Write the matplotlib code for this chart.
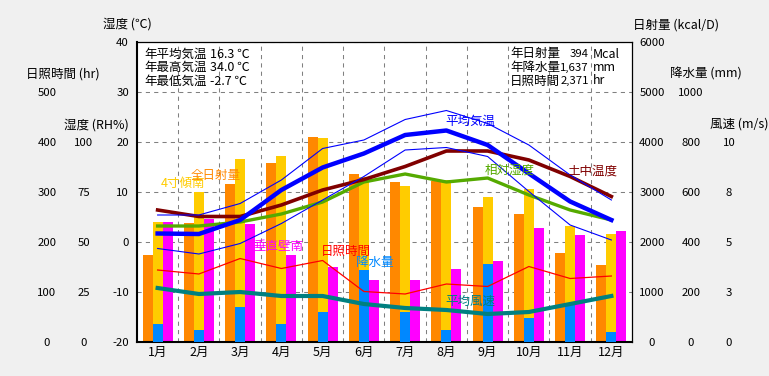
import matplotlib
matplotlib.use('Agg')
import matplotlib.pyplot as plt
import numpy as np

plt.rcParams['font.family'] = ['Noto Sans CJK JP', 'DejaVu Sans']

months = ['1月', '2月', '3月', '4月', '5月', '6月', '7月', '8月', '9月', '10月', '11月', '12月']
solar_total = [1746, 2380, 3160, 3580, 4100, 3360, 3200, 3220, 2700, 2560, 1780, 1540]   # 全日射量
solar_tilt = [2400, 3000, 3660, 3720, 4080, 3300, 3120, 3240, 2900, 3060, 2320, 2160]    # 4寸傾南
solar_wall = [2400, 2467, 2360, 1747, 1500, 1240, 1240, 1460, 1620, 2280, 2140, 2220]    # 垂直壁南
precip = [72, 48, 140, 72, 120, 288, 120, 48, 312, 96, 152, 40]                          # 降水量
temp_mean = [1.7, 1.6, 4.4, 10.4, 14.9, 17.7, 21.4, 22.3, 19.4, 13.7, 8.1, 4.4]
temp_max = [5.4, 5.4, 7.7, 12.4, 18.7, 20.4, 24.5, 26.3, 23.7, 19.4, 13.4, 8.4]
temp_min = [-1.3, -2.4, -0.3, 3.7, 8.4, 13.1, 18.4, 18.9, 17.1, 10.1, 3.4, 0.4]
soil_temp = [6.4, 5.1, 5.1, 7.4, 10.4, 12.5, 15.1, 18.2, 18.2, 16.4, 13.1, 9.1]
humidity = [58, 58, 60, 64, 70, 80, 84, 80, 82, 73.5, 66, 61]
sunshine = [144, 136, 167, 147, 163, 101, 96, 116, 111, 151, 127, 132]
wind = [2.7, 2.4, 2.5, 2.3, 2.3, 1.9, 1.7, 1.6, 1.4, 1.5, 1.9, 2.3]

temp_ticks = [-20, -10, 0, 10, 20, 30, 40]
sun_ticks = [0, 100, 200, 300, 400, 500]
rh_ticks = [0, 25, 50, 75, 100]
solar_ticks = [0, 1000, 2000, 3000, 4000, 5000, 6000]
precip_ticks = [0, 200, 400, 600, 800, 1000]
wind_ticks = [0, 2.5, 5, 7.5, 10]
wind_labels = ['0', '3', '5', '8', '10']

W, H = 769, 376
DPI = 100
fig = plt.figure(figsize=(W / DPI, H / DPI), dpi=DPI, facecolor='#F0F0F0')

def px(x, y):
    return x / W, 1 - y / H

def ppt(p):
    return p * 72 / DPI

L, R, T, B = 137, 632, 42, 342
pos = [L / W, 1 - B / H, (R - L) / W, (B - T) / H]
FS = 9
NFS = 8.2
x = np.arange(12)
bw = 0.242

# --- solar bars (base axes) ---
ax_s = fig.add_axes(pos)
ax_s.set_facecolor('white')
ax_s.bar(x - bw, solar_total, width=bw, color='#FF8800', zorder=2)
ax_s.bar(x, solar_tilt, width=bw, color='#FFCC00', zorder=2)
ax_s.bar(x + bw, solar_wall, width=bw, color='#FF00FF', zorder=2)
ax_s.set_xlim(-0.5, 11.5)
ax_s.set_ylim(0, 6000)
ax_s.set_xticks(x)
ax_s.set_xticklabels(months, fontsize=FS)
ax_s.set_xticks(np.arange(0.5, 11.5, 1), minor=True)
ax_s.tick_params(axis='x', which='both', length=0, pad=ppt(4))
ax_s.grid(True, axis='x', which='minor', color='#808080', lw=0.75, linestyle=(0, (4, 4)), zorder=1)
ax_s.grid(True, axis='y', which='major', color='#808080', lw=0.75, linestyle=(0, (4, 4)), zorder=1)
ax_s.set_axisbelow(True)
for side in ['left', 'bottom']:
    ax_s.spines[side].set_linewidth(1.5)
for side in ['top', 'right']:
    ax_s.spines[side].set_linewidth(0.9)

def twin(ylim, ticks, labels, side, pad, ha):
    a = ax_s.twinx()
    a.set_ylim(*ylim)
    for sp in a.spines.values():
        sp.set_visible(False)
    if side == 'left':
        a.yaxis.tick_left()
    else:
        a.yaxis.tick_right()
    a.set_yticks(ticks)
    a.set_yticklabels(labels, fontsize=NFS)
    a.tick_params(axis='y', length=0, pad=ppt(pad))
    for lb in a.get_yticklabels():
        lb.set_ha(ha)
    a.set_xlim(-0.5, 11.5)
    return a

ax_p = twin((0, 1200), precip_ticks, [str(v) for v in precip_ticks], 'right', 59, 'center')
ax_p.bar(x, precip, width=bw, color='#0088FF')

ax_h = twin((0, 600), sun_ticks, [str(v) for v in sun_ticks], 'left', 90, 'center')
ax_h.plot(x, sunshine, color='#FF0000', lw=0.9)

ax_rh = twin((0, 150), rh_ticks, [str(v) for v in rh_ticks], 'left', 53, 'center')
ax_rh.plot(x, humidity, color='#55AA00', lw=2.4)

ax_w = twin((0, 15), wind_ticks, wind_labels, 'right', 97, 'center')
ax_w.plot(x, wind, color='#008080', lw=3)

ax_t = twin((-20, 40), temp_ticks, [str(v) for v in temp_ticks], 'left', 8, 'right')
ax_t.plot(x, soil_temp, color='#800000', lw=2.6)
ax_t.plot(x, temp_max, color='#0000FF', lw=0.8)
ax_t.plot(x, temp_min, color='#0000FF', lw=0.8)
ax_t.plot(x, temp_mean, color='#0000FF', lw=3.2)

# solar tick labels on the right (after twinx, which resets the base axis to left)
ax_s.yaxis.tick_right()
ax_s.set_yticks(solar_ticks)
ax_s.set_yticklabels([str(v) for v in solar_ticks], fontsize=NFS)
ax_s.tick_params(axis='y', length=0, pad=ppt(20))
for lb in ax_s.get_yticklabels():
    lb.set_ha('center')

# axis titles
def ftext(xp, yp, s, ha='center', color='black', size=FS):
    fx, fy = px(xp, yp)
    fig.text(fx, fy, s, ha=ha, va='center', color=color, fontsize=size)

ftext(127, 24, '湿度 (℃)')
ftext(63, 74, '日照時間 (hr)')
ftext(96, 125, '湿度 (RH%)')
ftext(676, 25, '日射量 (kcal/D)')
ftext(706, 74, '降水量 (mm)')
ftext(739, 124, '風速 (m/s)')

# info texts
for i, (lab, val) in enumerate([('年平均気温', '16.3 ℃'), ('年最高気温', '34.0 ℃'), ('年最低気温', '-2.7 ℃')]):
    yy = 54 + i * 13.5
    ftext(144, yy, lab, ha='left')
    ftext(210, yy, val, ha='left')
for i, (lab, val, unit) in enumerate([('年日射量', '394', 'Mcal'), ('年降水量', '1,637', 'mm'), ('日照時間', '2,371', 'hr')]):
    yy = 54 + i * 13.5
    ftext(510, yy, lab, ha='left')
    ftext(589, yy, val, ha='right', size=NFS)
    ftext(593, yy, unit, ha='left')

# series labels inside plot
ftext(183, 183, '4寸傾南', color='#FFCC00')
ftext(216, 176, '全日射量', color='#FF8800')
ftext(278, 246.5, '垂直壁南', color='#FF00FF')
ftext(346, 251.5, '日照時間', color='#FF0000')
ftext(375, 262, '降水量', color='#0088FF')
ftext(470, 121.5, '平均気温', color='#0000FF')
ftext(510, 170, '相対湿度', color='#55AA00')
ftext(592, 171.5, '土中温度', color='#800000')
ftext(470, 301, '平均風速', color='#008080')

fig.savefig('out.png', dpi=DPI, facecolor=fig.get_facecolor())
